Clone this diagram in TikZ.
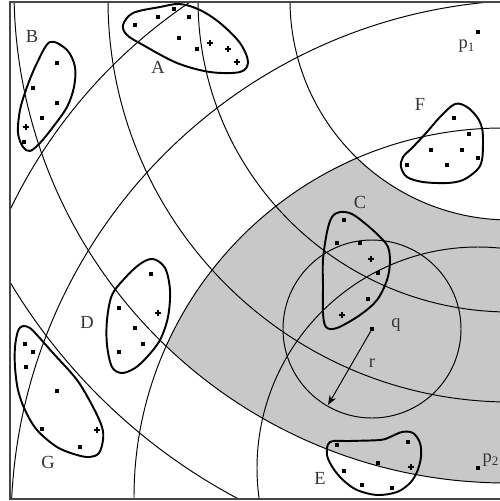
\documentclass[tikz,border=0pt]{standalone}
\usepackage{fontspec}
\setmainfont{Liberation Serif}
\usepackage{tikz}
\usetikzlibrary{arrows.meta}

\definecolor{bandgray}{RGB}{200,200,200}
\definecolor{frameink}{RGB}{70,70,70}

\begin{document}
\begin{tikzpicture}[x=0.02cm, y=-0.02cm, >=Stealth,
    ring/.style={line width=0.55pt},
    blob/.style={line width=1.1pt, smooth cycle, tension=0.55},
    lbl/.style={inner sep=0pt, text=black!80, font=\fontsize{10.5}{12}\selectfont}]
    \useasboundingbox (0,0) rectangle (500,501);

    % Shaded band
    \begin{scope}
        \clip (10,2) rectangle (500,499);
        \clip (503,497) circle[radius=369];
        \fill[bandgray, even odd rule] (507,-10) circle[radius=493] (510,0) circle[radius=220];
    \end{scope}

    % Rings round p1 and p2
    \begin{scope}
        \clip (10,2) rectangle (500,499);
        \draw[ring] (510,0) circle[radius=220];
        \draw[ring] (510,0) circle[radius=312];
        \draw[ring] (510,0) circle[radius=402];
        \draw[ring] (507,-10) circle[radius=493];
        \draw[ring] (510,-16) circle[radius=582];
        \draw[ring] (478,468) circle[radius=221];
        \draw[ring] (503,497) circle[radius=369];
        \draw[ring] (536,525) circle[radius=525];
        \draw[ring] (480,435) circle[radius=521];
    \end{scope}

    % Frame
    \draw[frameink, line width=1pt] (500,2) -- (10,2) -- (10,499) -- (500,499);

    % Clusters
    \draw[blob] plot coordinates {(123,25) (133,13) (160,7) (180,4) (200,10) (220,23) (240,43) (248,62) (240,72) (210,72) (177,63) (143,45) (127,35)};
    \draw[blob] plot coordinates {(50,42) (67,50) (75,67) (74,87) (67,107) (53,127) (40,143) (30,151) (23,147) (18,133) (20,110) (27,87) (37,63)};
    \draw[blob] plot coordinates {(340,212) (352,214) (367,225) (380,237) (388,247) (390,262) (387,280) (377,300) (360,315) (337,328) (326,327) (323,313) (323,287) (323,260) (327,232) (332,217)};
    \draw[blob] plot coordinates {(153,259) (165,268) (170,290) (168,317) (160,340) (147,357) (135,368) (122,373) (112,367) (107,345) (107,320) (112,295) (125,278) (140,264)};
    \draw[blob] plot coordinates {(330,442) (350,441) (380,440) (390,437) (402,432) (413,433) (420,443) (421,457) (417,472) (410,483) (397,492) (377,495) (357,490) (343,480) (333,468) (327,455)};
    \draw[blob] plot coordinates {(455,104) (467,107) (477,117) (482,128) (483,142) (482,160) (477,170) (463,180) (447,183) (423,182) (407,177) (401,167) (403,157) (413,147) (427,132) (440,117)};
    \draw[blob] plot coordinates {(23,326) (30,328) (37,335) (53,353) (77,380) (93,407) (102,427) (103,440) (99,453) (90,457) (77,455) (57,447) (37,430) (25,410) (18,390) (15,367) (15,347) (18,331)};

    % Points in the clusters
    \foreach \p in {(135,25),(158,17),(174,9),(189,17),(179,38),(197,49),
                    (57,63),(33,88),(57,103),(42,118),(24,142),
                    (344,220),(337,243),(360,243),(378,273),(368,299),
                    (151,274),(119,308),(135,328),(143,344),(119,352),
                    (337,445),(408,442),(378,463),(344,471),(362,485),(392,488),
                    (454,118),(469,134),(431,150),(462,150),(478,158),(407,165),(447,165),
                    (25,344),(33,352),(26,367),(57,391),(42,429),(80,447)}
        \fill \p +(-1.6,-1.6) rectangle +(1.6,1.6);
    \foreach \p in {(210,43),(228,49),(237,62),(26,127),(371,259),(342,315),
                    (158,313),(411,467),(97,430)}
        \draw[line width=0.7pt] \p +(-2.8,0) -- +(2.8,0) +(0,-2.8) -- +(0,2.8);

    % Query circle
    \coordinate (q) at (372,329);
    \coordinate (rEnd) at (328,405);
    \draw[ring] (q) circle[radius=89];
    \fill (q) +(-1.6,-1.6) rectangle +(1.6,1.6);
    \draw[ring, ->] (q) -- (rEnd);

    % Pivots
    \coordinate (p1) at (478,32);
    \coordinate (p2) at (478,468);
    \fill (p1) +(-1.6,-1.6) rectangle +(1.6,1.6);
    \fill (p2) +(-1.6,-1.6) rectangle +(1.6,1.6);

    % Labels
    \node[lbl] (lblA) at (158,67) {A};
    \node[lbl] (lblB) at (32,36) {B};
    \node[lbl] (lblC) at (360,202) {C};
    \node[lbl] (lblD) at (87,322) {D};
    \node[lbl] (lblE) at (320,478) {E};
    \node[lbl] (lblF) at (420,104) {F};
    \node[lbl] (lblG) at (48,462) {G};
    \node[lbl] (lblq) at (396,325) {q};
    \node[lbl] (lblr) at (372,363) {r};
    \node[lbl] (lblp1) at (467,46) {p\textsubscript{1}};
    \node[lbl] (lblp2) at (491,460) {p\textsubscript{2}};
\end{tikzpicture}
\end{document}
